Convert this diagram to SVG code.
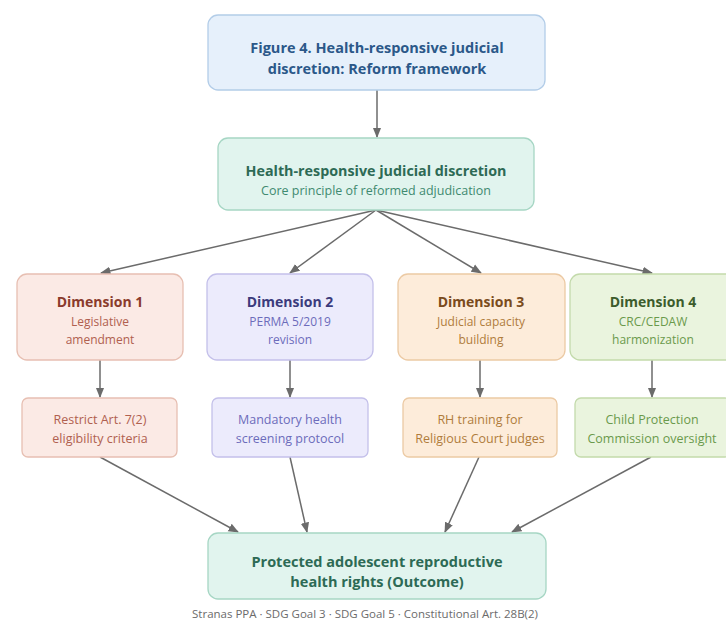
<svg xmlns="http://www.w3.org/2000/svg" width="726" height="626" viewBox="0 0 726 626">
<defs>
<marker id="ah" viewBox="0 0 10 10" refX="9" refY="5" markerWidth="7" markerHeight="7" orient="auto-start-reverse">
<path d="M0,1 L10,5 L0,9 z" fill="#6b6b6b"/>
</marker>
<style>
text{font-family:"Open Sans","Noto Sans","Liberation Sans",sans-serif;text-anchor:middle}
.b{font-weight:700}
.edge{stroke:#6b6b6b;stroke-width:1.5;fill:none;marker-end:url(#ah)}
.box{stroke-width:1.3}
</style>
</defs>
<rect width="726" height="626" fill="#ffffff"/>
<g id="connectors">
<line class="edge" x1="377" y1="90" x2="377" y2="137"/>
<line class="edge" x1="376" y1="210" x2="101" y2="273"/>
<line class="edge" x1="376" y1="210" x2="290" y2="273"/>
<line class="edge" x1="376" y1="210" x2="481" y2="273"/>
<line class="edge" x1="376" y1="210" x2="652" y2="273"/>
<line class="edge" x1="100" y1="360" x2="100" y2="397"/>
<line class="edge" x1="290" y1="360" x2="290" y2="397"/>
<line class="edge" x1="480" y1="360" x2="480" y2="397"/>
<line class="edge" x1="652" y1="360" x2="652" y2="397"/>
<line class="edge" x1="100" y1="457" x2="238" y2="532"/>
<line class="edge" x1="290" y1="457" x2="307" y2="532"/>
<line class="edge" x1="479" y1="457" x2="445" y2="532"/>
<line class="edge" x1="651" y1="457" x2="512" y2="532"/>
</g>
<g id="title">
<rect class="box" x="208" y="15" width="337" height="75" rx="10" fill="#e6f0fb" stroke="#b3cde8"/>
<text class="b" x="377" y="53" font-size="14.5" fill="#2b5889">Figure 4. Health-responsive judicial</text>
<text class="b" x="377" y="74" font-size="14.5" fill="#2b5889">discretion: Reform framework</text>
</g>
<g id="core">
<rect class="box" x="218" y="138" width="316" height="72" rx="10" fill="#e1f4ee" stroke="#a6d6c4"/>
<text class="b" x="376" y="176" font-size="14.3" fill="#2d6a55">Health-responsive judicial discretion</text>
<text x="376" y="195" font-size="12.5" fill="#3f8a70">Core principle of reformed adjudication</text>
</g>
<g id="dim1">
<rect class="box" x="17" y="274" width="166" height="86" rx="10" fill="#fbeae5" stroke="#e7bfb2"/>
<text class="b" x="100" y="307" font-size="14" fill="#8a3b2c">Dimension 1</text>
<text x="100" y="326" font-size="12" fill="#b0604f">Legislative</text>
<text x="100" y="344" font-size="12" fill="#b0604f">amendment</text>
</g>
<g id="dim2">
<rect class="box" x="207" y="274" width="166" height="86" rx="10" fill="#ecebfc" stroke="#c4c0ea"/>
<text class="b" x="290" y="307" font-size="14" fill="#3b3b7c">Dimension 2</text>
<text x="290" y="326" font-size="12" fill="#6c6cbb">PERMA 5/2019</text>
<text x="290" y="344" font-size="12" fill="#6c6cbb">revision</text>
</g>
<g id="dim3">
<rect class="box" x="398" y="274" width="167" height="86" rx="10" fill="#fdecda" stroke="#eccaa4"/>
<text class="b" x="481" y="307" font-size="14" fill="#7a4b1c">Dimension 3</text>
<text x="481" y="326" font-size="12" fill="#b07c3c">Judicial capacity</text>
<text x="481" y="344" font-size="12" fill="#b07c3c">building</text>
</g>
<g id="dim4">
<rect class="box" x="570" y="274" width="166" height="86" rx="10" fill="#eaf4de" stroke="#c3daab"/>
<text class="b" x="653" y="307" font-size="14" fill="#3c5c2c">Dimension 4</text>
<text x="653" y="326" font-size="12" fill="#6a9a4c">CRC/CEDAW</text>
<text x="653" y="344" font-size="12" fill="#6a9a4c">harmonization</text>
</g>
<g id="act1">
<rect class="box" x="22" y="398" width="155" height="59" rx="6" fill="#fbeae5" stroke="#e7bfb2"/>
<text x="100" y="424" font-size="12.5" fill="#b0604f">Restrict Art. 7(2)</text>
<text x="100" y="443" font-size="12.5" fill="#b0604f">eligibility criteria</text>
</g>
<g id="act2">
<rect class="box" x="212" y="398" width="156" height="59" rx="6" fill="#ecebfc" stroke="#c4c0ea"/>
<text x="290" y="424" font-size="12.5" fill="#6c6cbb">Mandatory health</text>
<text x="290" y="443" font-size="12.5" fill="#6c6cbb">screening protocol</text>
</g>
<g id="act3">
<rect class="box" x="403" y="398" width="154" height="59" rx="6" fill="#fdecda" stroke="#eccaa4"/>
<text x="480" y="424" font-size="12.5" fill="#b07c3c">RH training for</text>
<text x="480" y="443" font-size="12.5" fill="#b07c3c">Religious Court judges</text>
</g>
<g id="act4">
<rect class="box" x="575" y="398" width="156" height="59" rx="6" fill="#eaf4de" stroke="#c3daab"/>
<text x="652" y="424" font-size="12.5" fill="#6a9a4c">Child Protection</text>
<text x="652" y="443" font-size="12.5" fill="#6a9a4c">Commission oversight</text>
</g>
<g id="outcome">
<rect class="box" x="208" y="533" width="338" height="66" rx="10" fill="#e1f4ee" stroke="#a6d6c4"/>
<text class="b" x="377" y="567" font-size="14.5" fill="#2d6a55">Protected adolescent reproductive</text>
<text class="b" x="377" y="587" font-size="14.5" fill="#2d6a55">health rights (Outcome)</text>
</g>
<text x="365" y="618" font-size="11.5" fill="#6b6b6b">Stranas PPA · SDG Goal 3 · SDG Goal 5 · Constitutional Art. 28B(2)</text>
</svg>
